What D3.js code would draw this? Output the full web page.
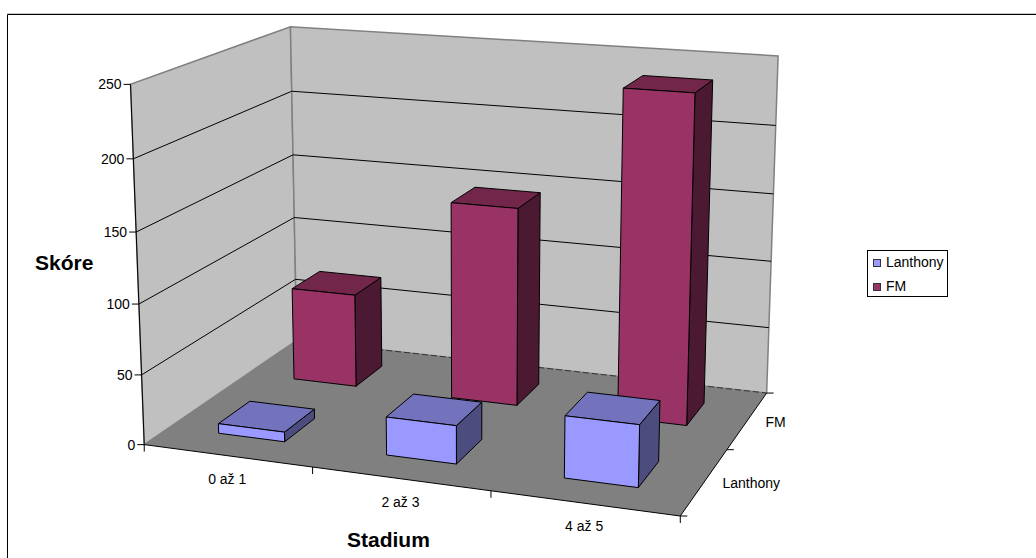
<!DOCTYPE html>
<html>
<head>
<meta charset="utf-8">
<script src="https://cdnjs.cloudflare.com/ajax/libs/d3/7.8.5/d3.min.js"></script>
<style>
html,body{margin:0;padding:0;background:#fff}
svg{display:block}
text{font-family:"Liberation Sans",Arial,sans-serif;fill:#000}
</style>
</head>
<body>
<svg id="chart" width="1036" height="558"></svg>
<script>
// Chart data
const categories = ["0 až 1", "2 až 3", "4 až 5"];
const seriesNames = ["Lanthony", "FM"];
const lanthonyValues = [7, 27, 43];
const fmValues = [70, 146, 237];
const valueTicks = [0, 50, 100, 150, 200, 250];

const seriesColors = {
  Lanthony: {front: "#9999ff", top: "#7272bd", side: "#4c4c7f"},
  FM: {front: "#993366", top: "#722649", side: "#4c1933"}
};

// Where the corners of the plot box land on the page (x, value, depth -> px, py)
const cameraAnchors = [
  [0, 0, 0, 145, 445],
  [1, 0, 0, 680, 516],
  [1, 0, 1, 767, 393],
  [0, 0, 1, 296, 340],
  [0, 1, 0, 130, 84],
  [0, 1, 1, 291, 27],
  [1, 1, 1, 778, 56]
];

// Least-squares fit of a 3x4 projective camera from the anchors
function fitCamera(anchors) {
  const n = 11;
  const A = Array.from({length: n}, () => new Array(n + 1).fill(0));
  const addRow = (r, b) => {
    for (let i = 0; i < n; i++) {
      for (let j = 0; j < n; j++) A[i][j] += r[i] * r[j];
      A[i][n] += r[i] * b;
    }
  };
  anchors.forEach(([x, y, z, u, v]) => {
    addRow([x, y, z, 1, 0, 0, 0, 0, -u * x, -u * y, -u * z], u);
    addRow([0, 0, 0, 0, x, y, z, 1, -v * x, -v * y, -v * z], v);
  });
  for (let c = 0; c < n; c++) {
    let p = c;
    for (let r = c + 1; r < n; r++) if (Math.abs(A[r][c]) > Math.abs(A[p][c])) p = r;
    [A[c], A[p]] = [A[p], A[c]];
    for (let r = 0; r < n; r++) {
      if (r === c) continue;
      const f = A[r][c] / A[c][c];
      for (let k = c; k <= n; k++) A[r][k] -= f * A[c][k];
    }
  }
  return A.map((row, i) => row[n] / row[i]);
}
const cam = fitCamera(cameraAnchors);

// Data-space scales feeding the camera
const xScale = d3.scaleLinear().domain([0, categories.length]).range([0, 1]);
const yScale = d3.scaleLinear().domain([0, 250]).range([0, 1]);
const zScale = d3.scaleLinear().domain([0, seriesNames.length]).range([0, 1]);

function project(cx, value, cz) {
  const x = xScale(cx), y = yScale(value), z = zScale(cz);
  const w = cam[8] * x + cam[9] * y + cam[10] * z + 1;
  return [
    (cam[0] * x + cam[1] * y + cam[2] * z + cam[3]) / w,
    (cam[4] * x + cam[5] * y + cam[6] * z + cam[7]) / w
  ];
}

const svg = d3.select("#chart");
const line = d3.line();
const poly = pts => line(pts) + "Z";
const nCat = categories.length, nSer = seriesNames.length;

// Outer frame: only the top and left edges fall inside the page
svg.append("path").attr("d", "M7,13.5H1036").attr("fill", "none").attr("stroke", "#ccc");
svg.append("path").attr("d", "M7.5,558V14.5H1036").attr("fill", "none").attr("stroke", "#000");

// Walls and floor
const walls = svg.append("g");
walls.append("path")
  .attr("d", poly([project(0,0,0), project(0,250,0), project(0,250,nSer), project(0,0,nSer)]))
  .attr("fill", "#c0c0c0").attr("stroke", "#808080").attr("stroke-width", 1.5);
walls.append("path")
  .attr("d", poly([project(0,0,nSer), project(0,250,nSer), project(nCat,250,nSer), project(nCat,0,nSer)]))
  .attr("fill", "#c0c0c0").attr("stroke", "#808080").attr("stroke-width", 1.5);

// Gridlines across both walls
const grid = svg.append("g").attr("fill", "none").attr("stroke", "#000").attr("stroke-width", 1);
valueTicks.filter(v => v > 0 && v < 250).forEach(v => {
  grid.append("path").attr("d", line([project(0,v,0), project(0,v,nSer), project(nCat,v,nSer)]));
});

walls.append("path")
  .attr("d", poly([project(0,0,0), project(nCat,0,0), project(nCat,0,nSer), project(0,0,nSer)]))
  .attr("fill", "#808080");
svg.append("path").attr("d", line([project(0,0,nSer), project(nCat,0,nSer)]))
  .attr("fill", "none").attr("stroke", "#333").attr("stroke-dasharray", "6 3");

// Axes
const axes = svg.append("g").attr("stroke", "#000").attr("fill", "none").attr("stroke-width", 1);
axes.append("path").attr("d", line([project(0,0,0), project(0,250,0)]));
axes.append("path").attr("d", line([project(0,0,0), project(nCat,0,0), project(nCat,0,nSer)]));

valueTicks.forEach(v => {
  const [px, py] = project(0, v, 0);
  axes.append("path").attr("d", line([[px - 7, py], [px, py]]));
  svg.append("text").attr("x", px - 9).attr("y", py + 5)
    .attr("text-anchor", "end").attr("font-size", 14).text(v);
});
d3.range(nCat + 1).forEach(i => {
  const [px, py] = project(i, 0, 0);
  axes.append("path").attr("d", line([[px, py], [px, py + 7]]));
});
d3.range(nSer + 1).forEach(i => {
  const [px, py] = project(nCat, 0, i);
  axes.append("path").attr("d", line([[px, py], [px + 7, py]]));
});

// Category and series labels
categories.forEach((c, i) => {
  const [px, py] = project(i + 0.5, 0, 0);
  svg.append("text").attr("x", px).attr("y", py + 28)
    .attr("text-anchor", "middle").attr("font-size", 14).text(c);
});
seriesNames.forEach((s, i) => {
  const [px, py] = project(nCat, 0, i + 0.5);
  svg.append("text").attr("x", px + 18).attr("y", py + 7)
    .attr("font-size", 14).text(s);
});

// Bars: back row first so the front row overlaps it
const barGap = 0.30;
const bars = svg.append("g").attr("stroke", "#000").attr("stroke-width", 1).attr("stroke-linejoin", "round");
[[1, fmValues], [0, lanthonyValues]].forEach(([s, vals]) => {
  const col = seriesColors[seriesNames[s]];
  vals.forEach((v, i) => {
    const x0 = i + barGap, x1 = i + 1 - barGap, z0 = s + barGap, z1 = s + 1 - barGap;
    bars.append("path").attr("fill", col.side)
      .attr("d", poly([project(x1,0,z0), project(x1,v,z0), project(x1,v,z1), project(x1,0,z1)]));
    bars.append("path").attr("fill", col.top)
      .attr("d", poly([project(x0,v,z0), project(x1,v,z0), project(x1,v,z1), project(x0,v,z1)]));
    bars.append("path").attr("fill", col.front)
      .attr("d", poly([project(x0,0,z0), project(x1,0,z0), project(x1,v,z0), project(x0,v,z0)]));
  });
});

// Axis titles
svg.append("text").attr("x", 35).attr("y", 270).attr("font-size", 21).attr("font-weight", "bold").text("Skóre");
svg.append("text").attr("x", 347).attr("y", 547).attr("font-size", 21).attr("font-weight", "bold").text("Stadium");

// Legend
const legend = svg.append("g");
legend.append("rect").attr("x", 867.5).attr("y", 250.5).attr("width", 80).attr("height", 46)
  .attr("fill", "#fff").attr("stroke", "#000");
seriesNames.forEach((s, i) => {
  const ly = 259 + i * 24;
  legend.append("rect").attr("x", 873.5).attr("y", ly + 0.5).attr("width", 7).attr("height", 7)
    .attr("fill", seriesColors[s].front).attr("stroke", "#333");
  legend.append("text").attr("x", 886).attr("y", ly + 8).attr("font-size", 14).text(s);
});
</script>
</body>
</html>
